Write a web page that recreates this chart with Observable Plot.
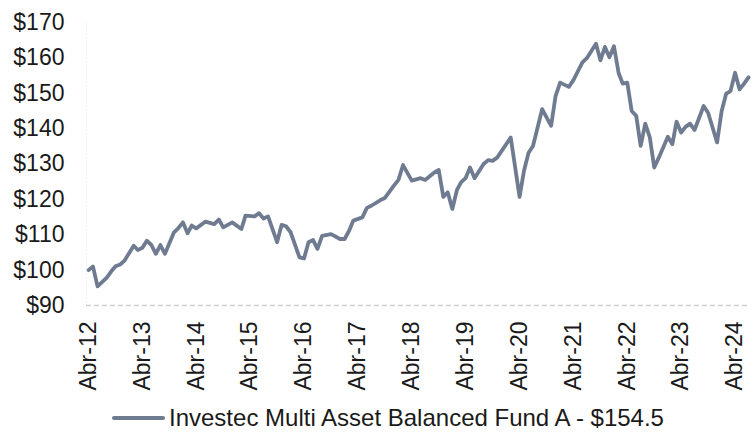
<!DOCTYPE html>
<html>
<head>
<meta charset="utf-8">
<script src="https://cdn.jsdelivr.net/npm/d3@7"></script>
<script src="https://cdn.jsdelivr.net/npm/@observablehq/plot@0.6"></script>
<style>
  html, body { margin: 0; padding: 0; background: #fff; }
  body { width: 756px; height: 444px; overflow: hidden; position: relative; font-family: "Liberation Sans", Arial, sans-serif; }
  #chart svg { display: block; }
  #legend { position: absolute; left: 112px; top: 403px; display: flex; align-items: center; height: 30px; font-size: 24px; color: #1a1a1a; white-space: nowrap; }
  #legend .sw { width: 53px; height: 4px; background: #6f7b90; margin-right: 4px; border-radius: 2px; }
</style>
</head>
<body>
<div id="chart"></div>
<div id="legend"><span class="sw"></span><span id="legtext"></span></div>
<script>
const seriesName = "Investec Multi Asset Balanced Fund A - $154.5";
const dates = [
  "2012-04-01","2012-05-01","2012-06-01","2012-08-01","2012-09-01","2012-10-01","2012-11-01","2012-12-01",
  "2013-02-01","2013-03-01","2013-04-01","2013-05-01","2013-06-01","2013-07-01","2013-08-01","2013-09-01",
  "2013-11-01","2013-12-01","2014-01-01","2014-02-01","2014-03-01","2014-04-01","2014-06-01","2014-08-01",
  "2014-09-01","2014-10-01","2014-12-01","2015-02-01","2015-03-01","2015-05-01","2015-06-01","2015-07-01",
  "2015-08-01","2015-10-01","2015-11-01","2015-12-01","2016-01-01","2016-03-01","2016-04-01","2016-05-01",
  "2016-06-01","2016-07-01","2016-08-01","2016-10-01","2016-12-01","2017-01-01","2017-02-01","2017-03-01",
  "2017-05-01","2017-06-01","2017-07-01","2017-09-01","2017-10-01","2017-12-01","2018-01-01","2018-02-01",
  "2018-04-01","2018-06-01","2018-07-01","2018-09-01","2018-10-01","2018-11-01","2018-12-01","2019-01-01",
  "2019-02-01","2019-03-01","2019-04-01","2019-05-01","2019-06-01","2019-08-01","2019-09-01","2019-10-01",
  "2019-11-01","2020-02-01","2020-04-01","2020-05-01","2020-06-01","2020-07-01","2020-09-01","2020-11-01",
  "2020-12-01","2021-01-01","2021-03-01","2021-04-01","2021-06-01","2021-07-01","2021-09-01","2021-10-01",
  "2021-11-01","2021-12-01","2022-01-01","2022-02-01","2022-03-01","2022-04-01","2022-05-01","2022-06-01",
  "2022-07-01","2022-08-01","2022-09-01","2022-10-01","2022-11-01","2023-01-01","2023-02-01","2023-03-01",
  "2023-04-01","2023-05-01","2023-06-01","2023-07-01","2023-09-01","2023-10-01","2023-12-01","2024-01-01",
  "2024-02-01","2024-03-01","2024-04-01","2024-05-01","2024-06-01","2024-07-01"
];
const values = [
  100.0,101.0,95.4,97.8,99.6,101.1,101.6,102.7,
  106.9,105.7,106.3,108.3,107.1,104.6,107.1,104.6,
  110.7,111.9,113.5,110.4,112.6,111.8,113.7,113.0,
  114.3,112.1,113.5,111.6,115.4,115.2,116.1,114.6,
  115.2,107.9,112.8,112.4,110.7,103.6,103.3,107.9,
  108.5,106.0,109.7,110.2,108.8,108.8,111.2,114.0,
  114.9,117.6,118.2,119.8,120.4,123.9,125.5,129.7,
  125.3,126.0,125.5,127.6,128.3,120.7,122.0,117.3,
  122.6,124.8,126.0,129.0,126.0,130.0,131.1,130.9,
  131.8,137.5,120.7,128.1,133.2,135.1,145.5,140.8,
  149.2,153.0,151.8,153.7,158.7,159.9,164.0,159.3,
  163.1,160.2,163.3,155.8,152.7,153.0,145.0,143.6,
  135.1,141.4,137.5,129.0,131.8,137.7,135.6,142.0,
  138.9,140.5,141.4,139.6,146.4,144.5,136.1,145.0,
  149.9,150.6,155.8,151.1,152.7,154.5
];
const yTicks = [90, 100, 110, 120, 130, 140, 150, 160, 170];
const xTickYears = [2012, 2013, 2014, 2015, 2016, 2017, 2018, 2019, 2020, 2021, 2022, 2023, 2024];
const xTickMonthLabel = "Abr";

const data = dates.map((d, i) => ({date: new Date(d + "T00:00:00"), value: values[i]}));
const xTicks = xTickYears.map(y => new Date(y, 3, 1));
const xStart = new Date(2012, 2, 18);
const xEnd = new Date(2024, 6, 1);

const chart = Plot.plot({
  width: 756,
  height: 400,
  marginLeft: 86,
  marginRight: 8,
  marginTop: 22,
  marginBottom: 95,
  style: {fontFamily: "'Liberation Sans', Arial, sans-serif", fontSize: "23px", color: "#1a1a1a", background: "#fff"},
  x: {type: "time", domain: [xStart, xEnd]},
  y: {domain: [90, 170]},
  marks: [
    Plot.ruleX([xStart], {stroke: "#e6e6e6", strokeDasharray: "1,2"}),
    Plot.ruleY([90], {stroke: "#cfcfcf", strokeWidth: 1.5, strokeDasharray: "5,3"}),
    Plot.axisY({ticks: yTicks, tickFormat: d => "$" + d, tickSize: 0, tickPadding: 22, fontSize: 23, label: null}),
    Plot.axisX({ticks: xTicks, tickFormat: d => xTickMonthLabel + "-" + String(d.getFullYear()).slice(2), tickRotate: -90, tickSize: 0, tickPadding: 16, fontSize: 23, label: null}),
    Plot.line(data, {x: "date", y: "value", stroke: "#6f7b90", strokeWidth: 3.8, strokeLinejoin: "round", strokeLinecap: "round"})
  ]
});
document.getElementById("chart").appendChild(chart);
document.getElementById("legtext").textContent = seriesName;
</script>
</body>
</html>
